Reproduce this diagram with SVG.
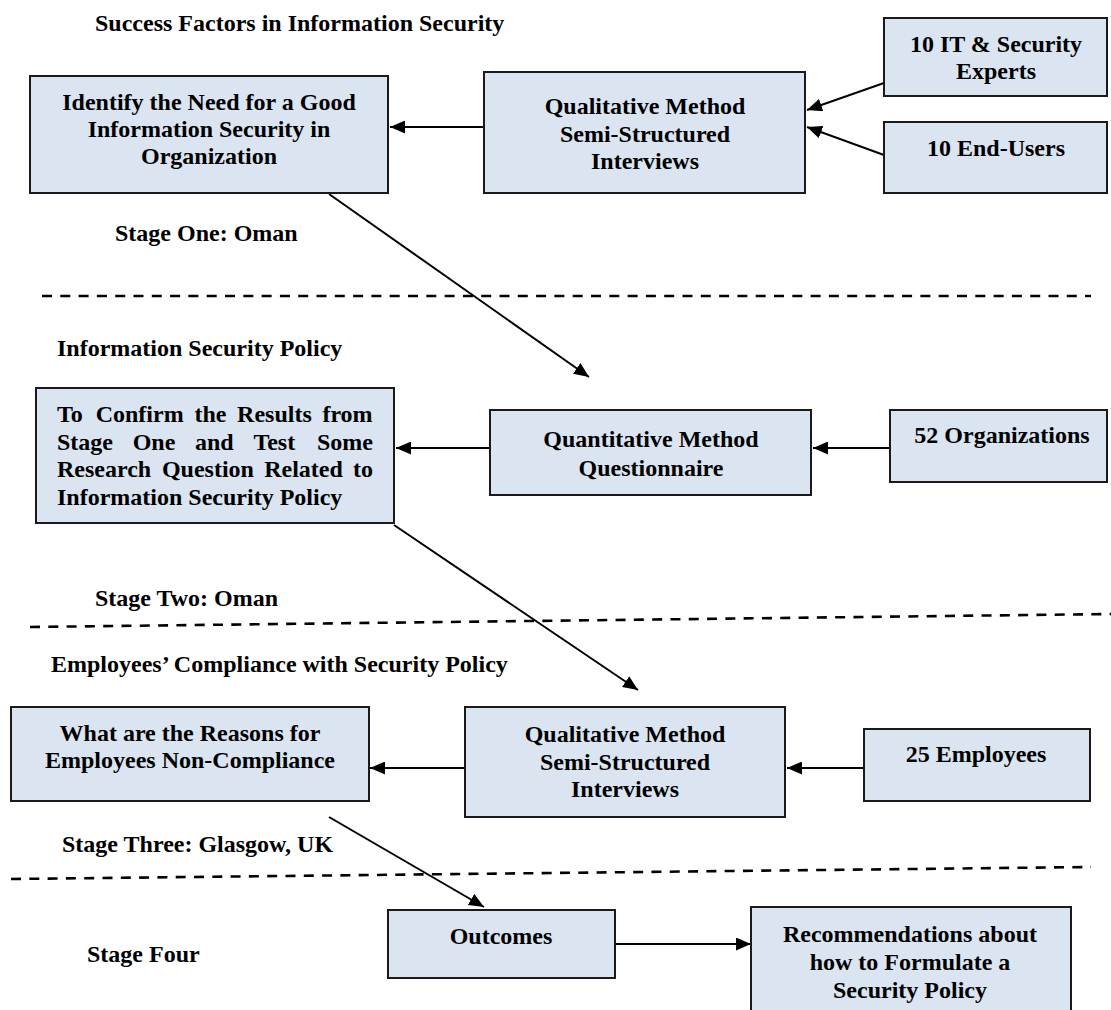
<svg xmlns="http://www.w3.org/2000/svg" width="1111" height="1010" viewBox="0 0 1111 1010">
  <style>
    .box { fill: #dbe5f1; stroke: #1a1a1a; stroke-width: 2; }
    .t { font-family: "Liberation Serif", "Times New Roman", serif; font-weight: bold; font-size: 24px; fill: #000; }
    .c { text-anchor: middle; }
    .e { text-anchor: end; }
    .link { stroke: #000; stroke-width: 2; fill: none; marker-end: url(#head); }
    .sep { stroke: #000; stroke-width: 2.6; stroke-dasharray: 10 8.3; fill: none; }
  </style>
  <defs>
    <marker id="head" markerUnits="userSpaceOnUse" markerWidth="15" markerHeight="13" refX="15" refY="6.5" orient="auto">
      <path d="M0,0 L15,6.5 L0,13 z" fill="#000"/>
    </marker>
  </defs>
  <rect width="1111" height="1010" fill="#fff"/>

  <!-- stage headings and labels -->
  <g id="labels">
    <text class="t" x="95" y="31">Success Factors in Information Security</text>
    <text class="t" x="115" y="241">Stage One: Oman</text>
    <text class="t" x="57" y="356">Information Security Policy</text>
    <text class="t" x="95" y="606">Stage Two: Oman</text>
    <text class="t" x="51" y="672">Employees’ Compliance with Security Policy</text>
    <text class="t" x="62" y="852">Stage Three: Glasgow, UK</text>
    <text class="t" x="87" y="962">Stage Four</text>
  </g>

  <!-- stage separators -->
  <g id="separators">
    <line class="sep" x1="42" y1="296" x2="1091" y2="296"/>
    <line class="sep" x1="30" y1="627" x2="1111" y2="614"/>
    <line class="sep" x1="11" y1="879" x2="1091" y2="867"/>
  </g>

  <!-- connectors -->
  <g id="connectors">
    <line class="link" x1="484" y1="127" x2="390" y2="127"/>
    <line class="link" x1="884" y1="83" x2="807" y2="110"/>
    <line class="link" x1="884" y1="155" x2="807" y2="127"/>
    <line class="link" x1="329" y1="194" x2="589" y2="377"/>
    <line class="link" x1="490" y1="448" x2="396" y2="448"/>
    <line class="link" x1="890" y1="448" x2="813" y2="448"/>
    <line class="link" x1="394" y1="525" x2="638" y2="690"/>
    <line class="link" x1="465" y1="768" x2="370" y2="768"/>
    <line class="link" x1="864" y1="768" x2="787" y2="768"/>
    <line class="link" x1="329" y1="817" x2="484" y2="907"/>
    <line class="link" x1="615" y1="944" x2="751" y2="944"/>
  </g>

  <!-- stage one -->
  <g id="need">
    <rect class="box" x="30" y="76" width="358" height="117"/>
    <text class="t c" x="209" y="110">Identify the Need for a Good</text>
    <text class="t c" x="209" y="137">Information Security in</text>
    <text class="t c" x="209" y="164">Organization</text>
  </g>
  <g id="qual1">
    <rect class="box" x="484" y="72" width="321" height="121"/>
    <text class="t c" x="645" y="114">Qualitative Method</text>
    <text class="t c" x="645" y="142">Semi-Structured</text>
    <text class="t c" x="645" y="169">Interviews</text>
  </g>
  <g id="experts">
    <rect class="box" x="884" y="18" width="223" height="78"/>
    <text class="t c" x="996" y="52">10 IT &amp; Security</text>
    <text class="t c" x="996" y="79">Experts</text>
  </g>
  <g id="endusers">
    <rect class="box" x="884" y="122" width="223" height="71"/>
    <text class="t c" x="996" y="156">10 End-Users</text>
  </g>

  <!-- stage two -->
  <g id="confirm">
    <rect class="box" x="36" y="388" width="358" height="135"/>
    <text class="t" y="422"><tspan x="57">To</tspan><tspan x="95.7">Confirm</tspan><tspan x="194.4">the</tspan><tspan x="237.1">Results</tspan><tspan x="322.4">from</tspan></text>
    <text class="t" y="450"><tspan x="57">Stage</tspan><tspan x="132.7">One</tspan><tspan x="195">and</tspan><tspan x="253.4">Test</tspan><tspan x="317">Some</tspan></text>
    <text class="t" y="477"><tspan x="57">Research</tspan><tspan x="161.9">Question</tspan><tspan x="264.2">Related</tspan><tspan x="353">to</tspan></text>
    <text class="t" x="57" y="505">Information Security Policy</text>
  </g>
  <g id="quant">
    <rect class="box" x="490" y="410" width="321" height="85"/>
    <text class="t c" x="651" y="447">Quantitative Method</text>
    <text class="t c" x="651" y="476">Questionnaire</text>
  </g>
  <g id="orgs">
    <rect class="box" x="890" y="410" width="217" height="72"/>
    <text class="t c" x="1002" y="443">52 Organizations</text>
  </g>

  <!-- stage three -->
  <g id="reasons">
    <rect class="box" x="11" y="707" width="358" height="94"/>
    <text class="t c" x="190" y="741">What are the Reasons for</text>
    <text class="t c" x="190" y="768">Employees Non-Compliance</text>
  </g>
  <g id="qual3">
    <rect class="box" x="465" y="707" width="320" height="110"/>
    <text class="t c" x="625" y="742">Qualitative Method</text>
    <text class="t c" x="625" y="770">Semi-Structured</text>
    <text class="t c" x="625" y="797">Interviews</text>
  </g>
  <g id="employees">
    <rect class="box" x="864" y="729" width="226" height="72"/>
    <text class="t c" x="976" y="762">25 Employees</text>
  </g>

  <!-- stage four -->
  <g id="outcomes">
    <rect class="box" x="388" y="910" width="227" height="68"/>
    <text class="t c" x="501" y="944">Outcomes</text>
  </g>
  <g id="recommendations">
    <rect class="box" x="751" y="907" width="320" height="120"/>
    <text class="t c" x="910" y="942">Recommendations about</text>
    <text class="t c" x="910" y="970">how to Formulate a</text>
    <text class="t c" x="910" y="998">Security Policy</text>
  </g>
</svg>
